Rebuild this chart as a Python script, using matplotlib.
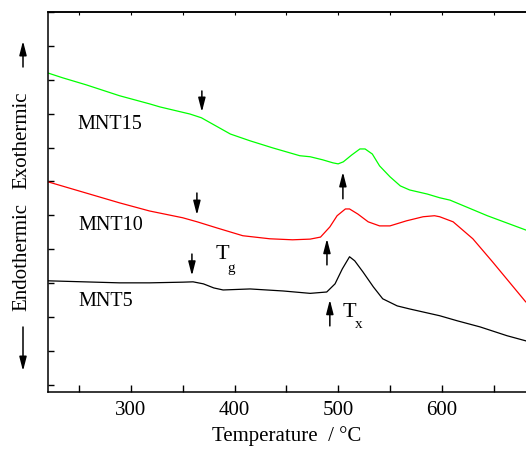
import numpy as np
import matplotlib
matplotlib.use("Agg")
import matplotlib.pyplot as plt
from matplotlib.patches import FancyArrowPatch
from matplotlib.ticker import MultipleLocator

params = {
    "font.family": "Liberation Serif",
    "font.size": 15,
    "xtick.direction": "in",
    "ytick.direction": "in",
    "axes.linewidth": 1.1,
}
plt.rcParams.update(params)

# DSC traces (temperature in degC, heat flow in arbitrary units)
t_mnt15 = [220, 234, 257, 289, 318, 328, 357, 368, 396, 415, 437, 463, 473, 485, 495,
           500, 505, 513, 521, 526, 533, 540, 550, 560, 569, 586, 598, 608, 644, 681]
q_mnt15 = [9.20, 9.06, 8.85, 8.53, 8.29, 8.20, 7.99, 7.88, 7.40, 7.20, 6.99, 6.76, 6.73, 6.64, 6.55,
           6.52, 6.58, 6.78, 6.96, 6.96, 6.81, 6.46, 6.14, 5.87, 5.75, 5.63, 5.52, 5.45, 4.99, 4.57]

t_mnt10 = [220, 289, 318, 350, 364, 383, 408, 434, 456, 473, 483, 492, 499, 507,
           511, 519, 529, 540, 550, 566, 582, 593, 598, 611, 630, 649, 665, 681]
q_mnt10 = [5.99, 5.37, 5.13, 4.93, 4.81, 4.63, 4.40, 4.31, 4.28, 4.30, 4.36, 4.66, 4.99, 5.19,
           5.19, 5.04, 4.81, 4.69, 4.69, 4.84, 4.96, 4.99, 4.96, 4.81, 4.31, 3.63, 3.04, 2.45]

t_mnt5 = [220, 289, 318, 350, 360, 370, 380, 389, 415, 447, 473, 489, 497, 504,
          511, 516, 524, 534, 543, 557, 569, 598, 615, 637, 663, 681]
q_mnt5 = [3.07, 3.01, 3.01, 3.03, 3.04, 2.98, 2.86, 2.80, 2.83, 2.77, 2.70, 2.74, 2.98, 3.42,
          3.78, 3.66, 3.33, 2.89, 2.54, 2.33, 2.24, 2.04, 1.89, 1.71, 1.45, 1.30]

# Tg / Tx markers: (temperature, tail, head)
tg_marks = [(368.5, 8.67, 8.05), (363.7, 5.66, 5.01), (358.9, 3.86, 3.22)]
tx_marks = [(504.6, 5.49, 6.28), (489.2, 3.54, 4.31), (492.0, 1.74, 2.51)]

arrow_style = "-|>,head_length=0.7,head_width=0.18"

fig = plt.figure(figsize=(5.26, 4.52), dpi=100)
ax = fig.add_axes([48 / 526, 1 - 393 / 452, 478 / 526, 380 / 452])

ax.plot(t_mnt15, q_mnt15, color="#00ff00", lw=0.9)
ax.plot(t_mnt10, q_mnt10, color="#ff0000", lw=0.9)
ax.plot(t_mnt5, q_mnt5, color="black", lw=0.9)

for t, y0, y1 in tg_marks + tx_marks:
    ax.annotate("", xy=(t, y1), xytext=(t, y0),
                arrowprops=dict(arrowstyle=arrow_style, color="black", lw=1.1,
                                mutation_scale=12, shrinkA=0, shrinkB=0))

ax.text(248, 7.70, "MNT15", ha="left", va="center", fontsize=14.5)
ax.text(249, 4.72, "MNT10", ha="left", va="center", fontsize=14.5)
ax.text(249, 2.48, "MNT5", ha="left", va="center", fontsize=14.5)

ax.text(382, 3.88, "T", ha="left", va="center", fontsize=16)
ax.text(392.7, 3.45, "g", ha="left", va="center", fontsize=11)
ax.text(504.6, 2.17, "T", ha="left", va="center", fontsize=16)
ax.text(516.2, 1.80, "x", ha="left", va="center", fontsize=11)

ax.set_xlim(220, 681.3)
ax.set_ylim(-0.21, 11.0)
ax.xaxis.set_major_locator(MultipleLocator(100))
ax.xaxis.set_minor_locator(MultipleLocator(50))
ax.yaxis.set_major_locator(MultipleLocator(1))
ax.tick_params(axis="x", which="both", length=5, width=1, labelsize=15, pad=6,
               top=False, bottom=True)
ax.tick_params(axis="y", which="major", length=4, width=1, labelleft=False)
ax.spines["right"].set_visible(False)
ax.set_xlabel("Temperature  / \u00b0C", fontsize=15, labelpad=4)

# tiny ticks along the top
sec = ax.secondary_xaxis("top")
sec.xaxis.set_major_locator(MultipleLocator(50))
sec.tick_params(length=2, labeltop=False, direction="in")

# y-axis caption with arrows
fig.text(22 / 526, 1 - 140 / 452, "Exothermic", rotation=90, ha="center", va="center", fontsize=15)
fig.text(22 / 526, 1 - 257 / 452, "Endothermic", rotation=90, ha="center", va="center", fontsize=15)
for y0, y1 in [(68, 42), (328, 372)]:
    fig.add_artist(FancyArrowPatch(
        (23 / 526, 1 - y0 / 452), (23 / 526, 1 - y1 / 452), transform=fig.transFigure,
        arrowstyle=arrow_style, mutation_scale=12, color="black", lw=1.1,
        shrinkA=0, shrinkB=0))

fig.savefig("out.png", dpi=100)
